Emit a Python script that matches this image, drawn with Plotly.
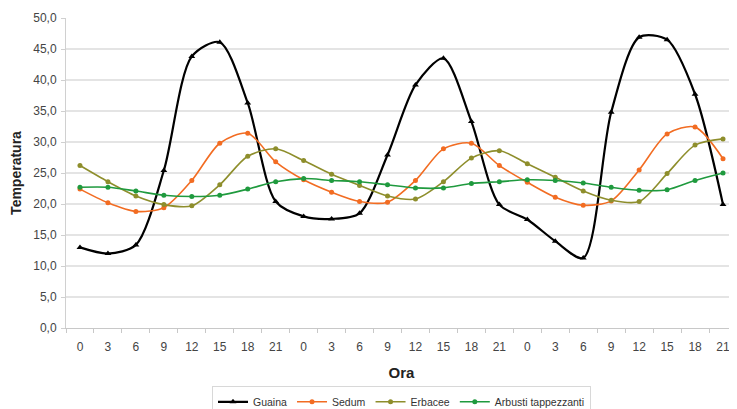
import plotly.graph_objects as go

hours = ["0", "3", "6", "9", "12", "15", "18", "21"] * 3
x_idx = list(range(len(hours)))

guaina = [13.0, 12.0, 13.4, 25.4, 43.8, 46.1, 36.3, 20.4,
          18.0, 17.6, 18.5, 27.9, 39.2, 43.5, 33.3, 19.9,
          17.5, 14.0, 11.3, 34.8, 46.9, 46.5, 37.7, 19.9]
sedum = [22.4, 20.2, 18.8, 19.4, 23.8, 29.8, 31.4, 26.8,
         23.9, 21.9, 20.4, 20.3, 23.8, 28.9, 29.8, 26.2,
         23.5, 21.1, 19.8, 20.5, 25.5, 31.3, 32.4, 27.3]
erbacee = [26.2, 23.6, 21.3, 19.9, 19.7, 23.1, 27.7, 28.9,
           27.0, 24.8, 23.0, 21.3, 20.8, 23.6, 27.4, 28.6,
           26.5, 24.3, 22.1, 20.6, 20.4, 24.9, 29.5, 30.5]
arbusti = [22.7, 22.7, 22.1, 21.4, 21.2, 21.4, 22.4, 23.6,
           24.1, 23.8, 23.6, 23.1, 22.6, 22.6, 23.3, 23.6,
           23.9, 23.8, 23.4, 22.7, 22.2, 22.3, 23.8, 25.0]
y_ticks = [0, 5, 10, 15, 20, 25, 30, 35, 40, 45, 50]

series = [
    ("Guaina", guaina, "#000000", "triangle-up", 2.2, 6),
    ("Sedum", sedum, "#F26C22", "circle", 1.6, 5),
    ("Erbacee", erbacee, "#8E8E2C", "circle", 1.6, 5),
    ("Arbusti tappezzanti", arbusti, "#1F9A3E", "circle", 1.6, 5),
]

fig = go.Figure()
for name, vals, col, sym, lw, ms in series:
    fig.add_trace(go.Scatter(
        x=x_idx, y=vals, name=name, mode="lines+markers",
        line=dict(color=col, width=lw, shape="spline", smoothing=0.8),
        marker=dict(color=col, symbol=sym, size=ms),
        cliponaxis=False,
    ))

font = "Liberation Sans, Arial, sans-serif"
fig.update_layout(
    width=729, height=401,
    margin=dict(l=58, r=0, t=10, b=81, autoexpand=False),
    plot_bgcolor="white", paper_bgcolor="white",
    separators=",.",
    font=dict(family=font, size=12, color="#444444"),
    showlegend=True,
    legend=dict(
        orientation="h", x=0.5, xanchor="center", y=-0.188, yanchor="top",
        bordercolor="#d8d8d8", borderwidth=1,
        font=dict(size=10.5, color="#333333"),
        itemwidth=30, tracegroupgap=0,
    ),
    xaxis=dict(
        range=[-0.5, 23.5], automargin=False,
        tickmode="array", tickvals=x_idx, ticktext=hours,
        ticks="", showgrid=False, zeroline=False,
        showline=True, linecolor="#c8c8c8", linewidth=1,
        tickfont=dict(size=12, color="#444444"),
        ticklabelstandoff=8,
        minor=dict(ticks="outside", tick0=-0.5, dtick=1, ticklen=4,
                   tickcolor="#c8c8c8", showgrid=False),
        title=dict(text="<b>Ora</b>", font=dict(size=15, color="#222222"), standoff=14),
    ),
    yaxis=dict(
        range=[0, 50], tickvals=y_ticks, tickformat=".1f", automargin=False,
        showgrid=True, gridcolor="#e4e4e4", gridwidth=1.5,
        zeroline=False, showline=True, linecolor="#d0d0d0", linewidth=1,
        ticks="outside", ticklen=4, tickcolor="#d0d0d0",
        tickfont=dict(size=12, color="#444444"),
        ticklabelstandoff=2,
        title=dict(text="<b>Temperatura</b>", font=dict(size=14, color="#222222"), standoff=10),
    ),
)

fig.write_html("out.html")
